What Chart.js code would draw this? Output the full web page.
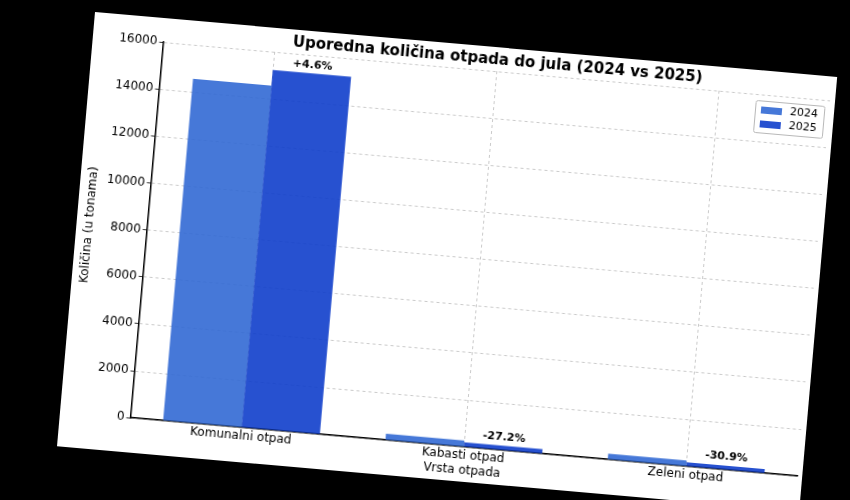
<!DOCTYPE html>
<html>
<head>
<meta charset="utf-8">
<script src="https://cdn.jsdelivr.net/npm/chart.js@4.4.1/dist/chart.umd.min.js"></script>
<style>
    html, body { margin: 0; padding: 0; background: #000; width: 850px; height: 500px; overflow: hidden; }
    /* the photo is tilted about 5 degrees clockwise */
    #sheet { position: absolute; left: 95px; top: 12px; width: 745px; height: 436px; background: #fff;
             transform-origin: 0 0; transform: rotate(5deg); }
</style>
</head>
<body>
<div id="sheet"><canvas id="wasteChart" width="745" height="436"></canvas></div>
<script>
// Data
const categories = ['Komunalni otpad', 'Kabasti otpad', 'Zeleni otpad'];
const values2024 = [14560, 270, 250];
const values2025 = [15230, 197, 173];
const changeLabels = ['+4.6%', '-27.2%', '-30.9%'];
const seriesLabels = ['2024', '2025'];
const chartTitle = 'Uporedna količina otpada do jula (2024 vs 2025)';

const FONT = "'DejaVu Sans', sans-serif";

// Title centred over the plot area (not the whole canvas), like matplotlib
const plotTitle = {
    id: 'plotTitle',
    afterDraw: function(chart) {
        const ctx = chart.ctx;
        const area = chart.chartArea;
        ctx.save();
        ctx.font = 'bold 15px ' + FONT;
        ctx.fillStyle = '#000';
        ctx.textAlign = 'center';
        ctx.textBaseline = 'middle';
        ctx.fillText(chartTitle, (area.left + area.right) / 2, 13);
        ctx.restore();
    }
};

// Legend drawn as a boxed key in the upper right of the plot
const boxLegend = {
    id: 'boxLegend',
    afterDraw: function(chart) {
        const ctx = chart.ctx;
        const area = chart.chartArea;
        const w = 69, h = 32;
        const x = area.right - w - 5;
        const y = area.top + 6;
        ctx.save();
        ctx.fillStyle = 'rgba(255,255,255,0.9)';
        ctx.strokeStyle = '#b8b8b8';
        ctx.lineWidth = 1;
        ctx.beginPath();
        ctx.roundRect(x + 0.5, y + 0.5, w, h, 2);
        ctx.fill();
        ctx.stroke();
        ctx.font = '11px ' + FONT;
        ctx.textBaseline = 'middle';
        chart.data.datasets.forEach(function(ds, i) {
            const ry = y + 9 + i * 14;
            ctx.fillStyle = ds.backgroundColor;
            ctx.fillRect(x + 6, ry - 3, 21, 7);
            ctx.fillStyle = '#000';
            ctx.fillText(ds.label, x + 35, ry);
        });
        ctx.restore();
    }
};

// Percentage change above the 2025 bars
const changeText = {
    id: 'changeText',
    afterDatasetsDraw: function(chart) {
        const ctx = chart.ctx;
        const meta = chart.getDatasetMeta(1);
        ctx.save();
        ctx.font = 'bold 11px ' + FONT;
        ctx.fillStyle = '#000';
        ctx.textAlign = 'center';
        ctx.textBaseline = 'bottom';
        meta.data.forEach(function(bar, i) {
            ctx.fillText(changeLabels[i], bar.x, bar.y - 3);
        });
        ctx.restore();
    }
};

Chart.defaults.font.family = FONT;
Chart.defaults.color = '#000';

const ctx = document.getElementById('wasteChart').getContext('2d');
new Chart(ctx, {
    type: 'bar',
    data: {
        labels: categories,
        datasets: [{
            label: seriesLabels[0],
            data: values2024,
            backgroundColor: 'rgba(50, 105, 212, 0.9)'
        }, {
            label: seriesLabels[1],
            data: values2025,
            backgroundColor: 'rgba(15, 62, 203, 0.9)'
        }]
    },
    options: {
        responsive: false,
        animation: false,
        categoryPercentage: 0.705,
        barPercentage: 1.0,
        layout: {
            padding: { left: 2, right: 5, top: 24, bottom: 0 }
        },
        scales: {
            x: {
                offset: true,
                grid: {
                    offset: false,
                    color: '#bdbdbd',
                    lineWidth: 0.8,
                    drawTicks: false,
                    tickLength: 0
                },
                border: {
                    display: true,
                    color: '#000',
                    width: 1.5,
                    dash: [3, 3]
                },
                ticks: {
                    padding: 1,
                    font: { size: 12 }
                },
                title: {
                    display: true,
                    text: 'Vrsta otpada',
                    font: { size: 12 },
                    padding: { top: 0, bottom: 4 }
                }
            },
            y: {
                min: 0,
                max: 16000,
                grid: {
                    color: '#bdbdbd',
                    lineWidth: 0.8,
                    tickColor: '#000',
                    tickLength: 4
                },
                border: {
                    display: true,
                    color: '#000',
                    width: 1.5,
                    dash: [3, 3]
                },
                ticks: {
                    stepSize: 2000,
                    padding: 2,
                    font: { size: 12 },
                    callback: function(value) {
                        return String(value);
                    }
                },
                title: {
                    display: true,
                    text: 'Količina (u tonama)',
                    font: { size: 12 },
                    padding: { top: 4, bottom: 4 }
                }
            }
        },
        plugins: {
            legend: { display: false },
            tooltip: { enabled: false },
            title: { display: false }
        }
    },
    plugins: [plotTitle, boxLegend, changeText]
});
</script>
</body>
</html>
